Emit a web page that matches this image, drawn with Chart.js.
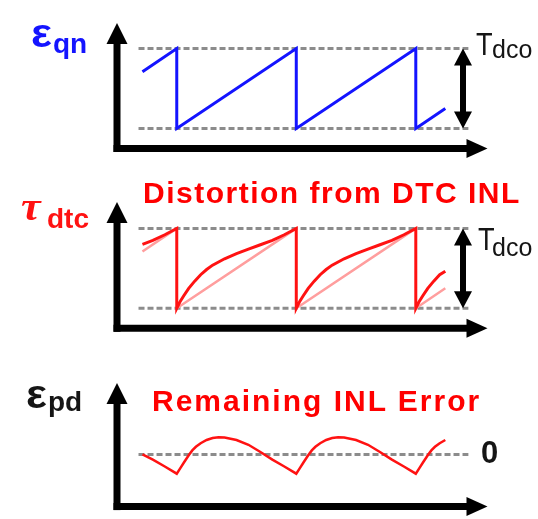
<!DOCTYPE html>
<html><head><meta charset="utf-8">
<script src="https://cdn.jsdelivr.net/npm/chart.js@4/dist/chart.umd.min.js"></script>
<style>
html,body{margin:0;padding:0;background:#fff;}
#wrap{position:relative;width:538px;height:519px;overflow:hidden;background:#fff;}
canvas{position:absolute;left:0;}
.t{position:absolute;white-space:nowrap;line-height:1;font-family:"Liberation Sans",Arial,sans-serif;}
</style></head><body>
<div id="wrap">
<canvas id="c1" width="538" height="170" style="top:0px"></canvas>
<canvas id="c2" width="538" height="170" style="top:170px"></canvas>
<canvas id="c3" width="538" height="179" style="top:340px"></canvas>
</div>
<script>
// ---- data (time in DCO periods, value in units of Tdco) ----
const refSpan = [0.68, 3.44];        // extent of the dashed reference lines
const refLevels = [0, 1];            // dashed levels (0 and Tdco)
const zeroLevel = [0];               // dashed zero line in the last panel

// eps_qn : quantization error sawtooth
const qnT = [0.713, 1, 1, 2, 2, 3, 3, 3.247];
const qnV = [0.71, 1, 0, 1, 0, 1, 0, 0.25];

// tau_dtc : distorted ramp (DTC INL)
const dtcT = [0.713, 0.8, 0.9, 1,
  1, 1.03, 1.06, 1.1, 1.15, 1.2, 1.25, 1.3, 1.4, 1.5, 1.6, 1.7, 1.8, 1.9, 2,
  2, 2.03, 2.06, 2.1, 2.15, 2.2, 2.25, 2.3, 2.4, 2.5, 2.6, 2.7, 2.8, 2.9, 3,
  3, 3.03, 3.06, 3.1, 3.15, 3.2, 3.247];
const dtcV = [0.80, 0.85, 0.92, 1,
  0, 0.09, 0.16, 0.25, 0.34, 0.42, 0.485, 0.54, 0.62, 0.685, 0.74, 0.795, 0.85, 0.92, 1,
  0, 0.09, 0.16, 0.25, 0.34, 0.42, 0.485, 0.54, 0.62, 0.685, 0.74, 0.795, 0.85, 0.92, 1,
  0, 0.09, 0.16, 0.25, 0.34, 0.42, 0.465];

// ideal linear ramp (light)
const idealT = [0.713, 1, null, 1, 2, null, 2, 3, null, 3, 3.247];
const idealV = [0.71, 1, null, 0, 1, null, 0, 1, null, 0, 0.25];

// eps_pd : remaining INL error
const pdT = [0.713, 0.8, 0.9,
  1, 1.03, 1.06, 1.1, 1.13, 1.16, 1.2, 1.25, 1.3, 1.35, 1.4, 1.5, 1.6, 1.7, 1.8, 1.9,
  2, 2.03, 2.06, 2.1, 2.13, 2.16, 2.2, 2.25, 2.3, 2.35, 2.4, 2.5, 2.6, 2.7, 2.8, 2.9,
  3, 3.03, 3.06, 3.1, 3.13, 3.16, 3.2, 3.247];
const pdV = [0.0, -0.065, -0.15,
  -0.24, -0.17, -0.10, -0.01, 0.05, 0.095, 0.14, 0.18, 0.205, 0.215, 0.212, 0.18, 0.12, 0.03, -0.065, -0.15,
  -0.24, -0.17, -0.10, -0.01, 0.05, 0.095, 0.14, 0.18, 0.205, 0.215, 0.212, 0.18, 0.12, 0.03, -0.065, -0.15,
  -0.24, -0.17, -0.10, -0.01, 0.05, 0.095, 0.14, 0.18];

// text
const labelQn = ['ε', 'qn'];
const labelDtc = ['τ', 'dtc'];
const labelPd = ['ε', 'pd'];
const labelT = ['T', 'dco'];
const title2 = 'Distortion from DTC INL';
const title3 = 'Remaining INL Error';
const zeroText = '0';

// ---- helpers ----
const pts = (ts, vs) => ts.map((t, i) => ({x: t, y: (t === null ? null : vs[i])}));
const BLUE = '#1414ff', RED = '#ff1212', PINK = '#ff9e9e', GRAY = '#8c8c8c';

function refLine(level) {
  return {data: refSpan.map(t => ({x: t, y: level})), borderColor: GRAY, borderWidth: 3,
    borderDash: [6, 3], pointRadius: 0, tension: 0, order: 5};
}

function tri(ctx, tx, ty, dir, len, half) {
  ctx.beginPath();
  if (dir === 'up') { ctx.moveTo(tx, ty); ctx.lineTo(tx - half, ty + len); ctx.lineTo(tx + half, ty + len); }
  else if (dir === 'down') { ctx.moveTo(tx, ty); ctx.lineTo(tx - half, ty - len); ctx.lineTo(tx + half, ty - len); }
  else { ctx.moveTo(tx, ty); ctx.lineTo(tx - len, ty - half); ctx.lineTo(tx - len, ty + half); }
  ctx.closePath(); ctx.fill();
}

const arrowPlugin = {
  id: 'arrows',
  afterDatasetsDraw(chart, args, opts) {
    const {ctx, scales: {x, y}} = chart;
    const lw = 7;
    ctx.save();
    ctx.fillStyle = '#000'; ctx.strokeStyle = '#000'; ctx.lineCap = 'butt';
    const x0 = x.getPixelForValue(x.min), y0 = y.getPixelForValue(y.min);
    const xt = x.getPixelForValue(x.max), yt = y.getPixelForValue(y.max);
    ctx.lineWidth = lw;
    ctx.beginPath(); ctx.moveTo(x0, y0 + lw / 2); ctx.lineTo(x0, yt + 19); ctx.stroke();
    tri(ctx, x0, yt, 'up', 21, 10.5);
    ctx.beginPath(); ctx.moveTo(x0 - lw / 2, y0); ctx.lineTo(xt - 19, y0); ctx.stroke();
    tri(ctx, xt, y0, 'right', 21, 9.5);
    if (opts && opts.span) {
      const ax = x.getPixelForValue(opts.at);
      const ya = y.getPixelForValue(opts.span[1]), yb = y.getPixelForValue(opts.span[0]);
      ctx.lineWidth = 6;
      ctx.beginPath(); ctx.moveTo(ax, ya + 15); ctx.lineTo(ax, yb - 15); ctx.stroke();
      tri(ctx, ax, ya, 'up', 17, 9);
      tri(ctx, ax, yb, 'down', 17, 9);
    }
    ctx.restore();
  }
};

function makeChart(id, datasets, yMin, yMax, pad, arrowOpts) {
  return new Chart(document.getElementById(id), {
    type: 'line',
    data: {datasets},
    options: {
      responsive: false, animation: false, events: [],
      layout: {padding: pad},
      plugins: {legend: {display: false}, tooltip: {enabled: false}, arrows: arrowOpts || {}},
      elements: {point: {radius: 0}, line: {tension: 0, borderJoinStyle: 'miter', borderCapStyle: 'butt'}},
      scales: {
        x: {type: 'linear', min: 0.5, max: 3.6, display: false},
        y: {type: 'linear', min: yMin, max: yMax, display: false}
      }
    },
    plugins: [arrowPlugin]
  });
}

const padX = {left: 117, right: 50.5};

makeChart('c1', [
  {data: pts(qnT, qnV), borderColor: BLUE, borderWidth: 3, order: 0},
  refLine(refLevels[1]), refLine(refLevels[0])
], -0.25, 1.32, {...padX, top: 22.9, bottom: 21.5}, {span: refLevels, at: 3.395});

makeChart('c2', [
  {data: pts(dtcT, dtcV), borderColor: RED, borderWidth: 3, order: 0},
  {data: pts(idealT, idealV), borderColor: PINK, borderWidth: 2.5, spanGaps: false, order: 1},
  refLine(refLevels[1]), refLine(refLevels[0])
], -0.25, 1.33, {...padX, top: 32, bottom: 11.7}, {span: refLevels, at: 3.395});

makeChart('c3', [
  {data: pts(pdT, pdV), borderColor: RED, borderWidth: 2.5, order: 0},
  refLine(zeroLevel[0])
], -0.65, 0.89, {...padX, top: 43, bottom: 12.4}, null);

// ---- text labels (real DOM text) ----
const wrap = document.getElementById('wrap');
function label(text, o) {
  const s = document.createElement('span');
  s.className = 't';
  s.textContent = text;
  const k = o.serif ? 0.8375 : 0.8465;
  s.style.left = o.left + 'px';
  s.style.top = (o.base - k * o.size) + 'px';
  s.style.fontSize = o.size + 'px';
  s.style.fontWeight = o.bold ? 'bold' : 'normal';
  if (o.italic) s.style.fontStyle = 'italic';
  if (o.serif) s.style.fontFamily = '"Liberation Serif","Times New Roman",serif';
  s.style.color = o.color;
  if (o.ls) s.style.letterSpacing = o.ls + 'px';
  if (o.sx) { s.style.transform = 'scaleX(' + o.sx + ')'; s.style.transformOrigin = 'left'; }
  wrap.appendChild(s);
}
const DARK = '#151515';
label(labelQn[0], {left: 31, base: 47, size: 40, bold: true, color: BLUE, sx: 1.1});
label(labelQn[1], {left: 53, base: 54, size: 28, bold: true, color: BLUE});
label(labelT[0], {left: 476, base: 55, size: 32, color: DARK, sx: 0.85});
label(labelT[1], {left: 492, base: 58, size: 25, color: DARK});

label(labelDtc[0], {left: 21, base: 220, size: 40, bold: true, italic: true, serif: true, color: RED, sx: 1.1});
label(labelDtc[1], {left: 47, base: 229, size: 28, bold: true, color: RED});
label(labelT[0], {left: 478, base: 250, size: 32, color: DARK, sx: 0.85});
label(labelT[1], {left: 492, base: 256, size: 25, color: DARK});
label(title2, {left: 143, base: 203, size: 30, bold: true, color: '#ff0000', ls: 1.5});

label(labelPd[0], {left: 26, base: 408, size: 40, bold: true, color: DARK, sx: 1.1});
label(labelPd[1], {left: 48, base: 412, size: 28, bold: true, color: DARK});
label(title3, {left: 152, base: 411.5, size: 30, bold: true, color: '#ff0000', ls: 2});
label(zeroText, {left: 481, base: 463, size: 31, bold: true, color: DARK});
</script>
</body></html>
